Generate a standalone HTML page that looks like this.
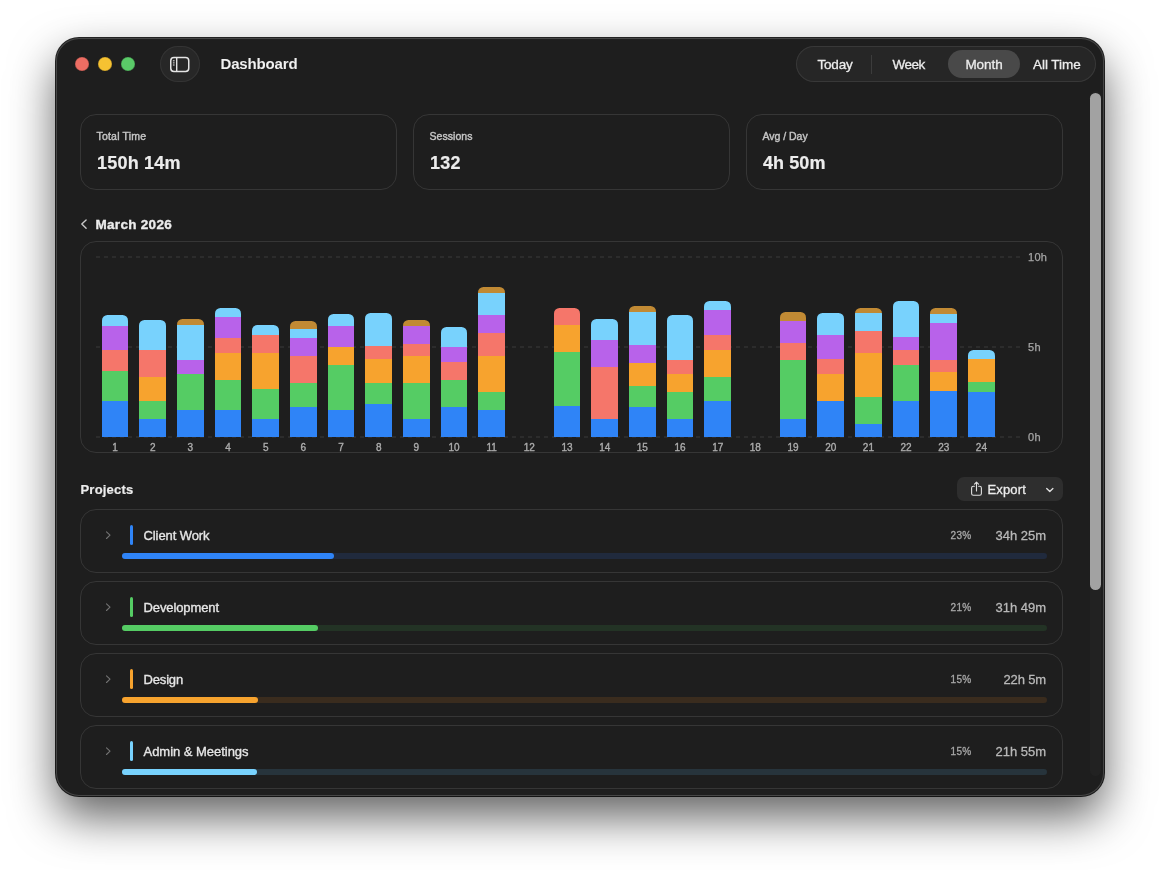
<!DOCTYPE html>
<html lang="en"><head><meta charset="utf-8"><title>Dashboard</title>
<style>
html,body{margin:0;padding:0}
body{width:1160px;height:870px;background:#fff;position:relative;overflow:hidden;
 font-family:"Liberation Sans",sans-serif;color:#e8e8e8;-webkit-font-smoothing:antialiased}
.abs,.t,.card,.bar,.seg{position:absolute}
.t{white-space:nowrap;line-height:1;}
#win{position:absolute;left:56px;top:38px;width:1048px;height:758px;border-radius:23px;background:#1e1e1e;
 box-shadow:0 0 0 1px rgba(0,0,0,.85),0 21px 46px rgba(0,0,0,.62)}
#win:after{content:"";position:absolute;inset:0;border-radius:23px;box-shadow:inset 0 0 0 1px rgba(255,255,255,.18);pointer-events:none}
.card{border:1px solid #363636;border-radius:16px;box-sizing:border-box;background:#1e1e1e}
.lbl{font-size:10.5px;color:#c6c6c6;-webkit-text-stroke:.4px #c6c6c6}
.big{font-size:18px;font-weight:700;color:#ececec;-webkit-text-stroke:.2px #ececec}
.ax{font-size:11px;color:#a6a6a6;-webkit-text-stroke:.25px #a6a6a6}
.day{font-size:10px;color:#acacac;-webkit-text-stroke:.35px #acacac;text-align:center;width:30px}
.bar{overflow:hidden;border-radius:5.5px 5.5px 0 0}
.seg{left:0;right:0}
.grid{position:absolute;left:96px;width:924px;height:2px;background:repeating-linear-gradient(90deg,#2c2c2c 0 4px,transparent 4px 8px)}
.pname{font-size:13px;font-weight:400;color:#e6e6e6;-webkit-text-stroke:.35px #e6e6e6}
.med{-webkit-text-stroke:.3px currentColor}
.pct{font-size:10px;color:#a8a8a8;-webkit-text-stroke:.3px #a8a8a8}
.dur{font-size:13px;color:#b8b8b8;-webkit-text-stroke:.3px #b8b8b8}
.track{position:absolute;left:122px;width:925px;height:6px;border-radius:3px}
.fill{position:absolute;left:0;top:0;height:6px;border-radius:3px}
.cbar{position:absolute;left:130px;width:3px;height:20px;border-radius:1.5px}
</style></head><body>
<div id="win"></div>
<div id="layer" style="position:absolute;left:0;top:0;width:1160px;height:870px;will-change:transform">

<div class="abs" style="left:75px;top:57px;width:14px;height:14px;border-radius:50%;background:#ec6d63;box-shadow:inset 0 0 0 .5px rgba(0,0,0,.22)"></div>
<div class="abs" style="left:98px;top:57px;width:14px;height:14px;border-radius:50%;background:#f6c232;box-shadow:inset 0 0 0 .5px rgba(0,0,0,.22)"></div>
<div class="abs" style="left:121px;top:57px;width:14px;height:14px;border-radius:50%;background:#5aca68;box-shadow:inset 0 0 0 .5px rgba(0,0,0,.22)"></div>
<div class="abs" style="left:160px;top:46px;width:40px;height:36px;border-radius:18px;background:#272727;box-shadow:inset 0 0 0 1px #343434"></div>
<svg class="abs" style="left:169px;top:55px" width="22" height="19" viewBox="0 0 22 19" fill="none" stroke="#e4e4e4">
<rect x="1.75" y="2.5" width="18" height="14" rx="3.2" stroke-width="1.5"/>
<line x1="7.7" y1="2.7" x2="7.7" y2="16.3" stroke-width="1.4"/>
<line x1="3.9" y1="5.8" x2="5.6" y2="5.8" stroke-width="1" /><line x1="3.9" y1="7.9" x2="5.6" y2="7.9" stroke-width="1"/><line x1="3.9" y1="10" x2="5.6" y2="10" stroke-width="1"/>
</svg>
<div class="t" style="left:220.5px;top:56px;font-size:15px;font-weight:700;color:#f0f0f0;letter-spacing:-0.15px">Dashboard</div>
<div class="abs" style="left:796px;top:46px;width:300px;height:36px;border-radius:18px;background:#262626;box-shadow:inset 0 0 0 1px #383838"></div>
<div class="abs" style="left:948px;top:50px;width:72px;height:28px;border-radius:14px;background:#494949"></div>
<div class="abs" style="left:871px;top:55px;width:1px;height:19px;background:#3c3c3c"></div>
<div class="t med" style="left:817.4px;top:57.7px;font-size:13.5px;color:#ececec;letter-spacing:-0.15px">Today</div>
<div class="t med" style="left:892.4px;top:57.7px;font-size:13.5px;color:#ececec;letter-spacing:-0.5px">Week</div>
<div class="t med" style="left:965.4px;top:57.7px;font-size:13.5px;color:#ececec;letter-spacing:-0.02px">Month</div>
<div class="t med" style="left:1033px;top:57.7px;font-size:13.5px;color:#ececec;letter-spacing:-0.05px">All Time</div>
<div class="card" style="left:80px;top:114px;width:317px;height:75.5px"></div>
<div class="t lbl" style="left:96.5px;top:131.2px;letter-spacing:0.2px">Total Time</div>
<div class="t big" style="left:97px;top:154px;letter-spacing:0.2px">150h 14m</div>
<div class="card" style="left:413px;top:114px;width:317px;height:75.5px"></div>
<div class="t lbl" style="left:429.5px;top:131.2px;letter-spacing:0.05px">Sessions</div>
<div class="t big" style="left:430px;top:154px;letter-spacing:0.25px">132</div>
<div class="card" style="left:746px;top:114px;width:317px;height:75.5px"></div>
<div class="t lbl" style="left:762.5px;top:131.2px;letter-spacing:-0.02px">Avg / Day</div>
<div class="t big" style="left:763px;top:154px;letter-spacing:0.08px">4h 50m</div>
<svg class="abs" style="left:79px;top:217px" width="10" height="14" viewBox="0 0 10 14" fill="none" stroke="#c8c8c8" stroke-width="1.4" stroke-linecap="round" stroke-linejoin="round"><path d="M7.1 3 L2.8 7.1 L7.1 11.2"/></svg>
<div class="t" style="left:95.5px;top:218px;font-size:13.5px;font-weight:700;color:#ececec;letter-spacing:.3px;-webkit-text-stroke:.35px #ececec">March 2026</div>
<div class="card" style="left:80px;top:241px;width:982.5px;height:211.5px"></div>
<div class="grid" style="top:256px"></div>
<div class="t ax" style="left:1028px;top:252px;letter-spacing:.3px">10h</div>
<div class="grid" style="top:346px"></div>
<div class="t ax" style="left:1028px;top:342px;letter-spacing:.3px">5h</div>
<div class="grid" style="top:436px"></div>
<div class="t ax" style="left:1028px;top:432px;letter-spacing:.3px">0h</div>
<div class="bar" style="left:101.75px;top:315px;width:26.5px;height:122px">
<div class="seg" style="top:86px;height:36px;background:#2f84f7"></div><div class="seg" style="top:56px;height:30px;background:#55cc64"></div><div class="seg" style="top:35px;height:21px;background:#f5766a"></div><div class="seg" style="top:11px;height:24px;background:#b862ea"></div><div class="seg" style="top:0px;height:11px;background:#78d2fd"></div></div>
<div class="t day" style="left:100.00px;top:443px">1</div>
<div class="bar" style="left:139.42px;top:320px;width:26.5px;height:117px">
<div class="seg" style="top:99px;height:18px;background:#2f84f7"></div><div class="seg" style="top:81px;height:18px;background:#55cc64"></div><div class="seg" style="top:57px;height:24px;background:#f7a32e"></div><div class="seg" style="top:30px;height:27px;background:#f5766a"></div><div class="seg" style="top:0px;height:30px;background:#78d2fd"></div></div>
<div class="t day" style="left:137.67px;top:443px">2</div>
<div class="bar" style="left:177.09px;top:319px;width:26.5px;height:118px">
<div class="seg" style="top:91px;height:27px;background:#2f84f7"></div><div class="seg" style="top:55px;height:36px;background:#55cc64"></div><div class="seg" style="top:41px;height:14px;background:#b862ea"></div><div class="seg" style="top:6px;height:35px;background:#78d2fd"></div><div class="seg" style="top:0px;height:6px;background:#c18a34"></div></div>
<div class="t day" style="left:175.34px;top:443px">3</div>
<div class="bar" style="left:214.76px;top:308px;width:26.5px;height:129px">
<div class="seg" style="top:102px;height:27px;background:#2f84f7"></div><div class="seg" style="top:72px;height:30px;background:#55cc64"></div><div class="seg" style="top:45px;height:27px;background:#f7a32e"></div><div class="seg" style="top:30px;height:15px;background:#f5766a"></div><div class="seg" style="top:9px;height:21px;background:#b862ea"></div><div class="seg" style="top:0px;height:9px;background:#78d2fd"></div></div>
<div class="t day" style="left:213.01px;top:443px">4</div>
<div class="bar" style="left:252.43px;top:325px;width:26.5px;height:112px">
<div class="seg" style="top:94px;height:18px;background:#2f84f7"></div><div class="seg" style="top:64px;height:30px;background:#55cc64"></div><div class="seg" style="top:28px;height:36px;background:#f7a32e"></div><div class="seg" style="top:10px;height:18px;background:#f5766a"></div><div class="seg" style="top:0px;height:10px;background:#78d2fd"></div></div>
<div class="t day" style="left:250.68px;top:443px">5</div>
<div class="bar" style="left:290.10px;top:321px;width:26.5px;height:116px">
<div class="seg" style="top:86px;height:30px;background:#2f84f7"></div><div class="seg" style="top:62px;height:24px;background:#55cc64"></div><div class="seg" style="top:35px;height:27px;background:#f5766a"></div><div class="seg" style="top:17px;height:18px;background:#b862ea"></div><div class="seg" style="top:8px;height:9px;background:#78d2fd"></div><div class="seg" style="top:0px;height:8px;background:#c18a34"></div></div>
<div class="t day" style="left:288.35px;top:443px">6</div>
<div class="bar" style="left:327.77px;top:314px;width:26.5px;height:123px">
<div class="seg" style="top:96px;height:27px;background:#2f84f7"></div><div class="seg" style="top:51px;height:45px;background:#55cc64"></div><div class="seg" style="top:33px;height:18px;background:#f7a32e"></div><div class="seg" style="top:12px;height:21px;background:#b862ea"></div><div class="seg" style="top:0px;height:12px;background:#78d2fd"></div></div>
<div class="t day" style="left:326.02px;top:443px">7</div>
<div class="bar" style="left:365.44px;top:313px;width:26.5px;height:124px">
<div class="seg" style="top:91px;height:33px;background:#2f84f7"></div><div class="seg" style="top:70px;height:21px;background:#55cc64"></div><div class="seg" style="top:46px;height:24px;background:#f7a32e"></div><div class="seg" style="top:33px;height:13px;background:#f5766a"></div><div class="seg" style="top:0px;height:33px;background:#78d2fd"></div></div>
<div class="t day" style="left:363.69px;top:443px">8</div>
<div class="bar" style="left:403.11px;top:320px;width:26.5px;height:117px">
<div class="seg" style="top:99px;height:18px;background:#2f84f7"></div><div class="seg" style="top:63px;height:36px;background:#55cc64"></div><div class="seg" style="top:36px;height:27px;background:#f7a32e"></div><div class="seg" style="top:24px;height:12px;background:#f5766a"></div><div class="seg" style="top:6px;height:18px;background:#b862ea"></div><div class="seg" style="top:0px;height:6px;background:#c18a34"></div></div>
<div class="t day" style="left:401.36px;top:443px">9</div>
<div class="bar" style="left:440.78px;top:327px;width:26.5px;height:110px">
<div class="seg" style="top:80px;height:30px;background:#2f84f7"></div><div class="seg" style="top:53px;height:27px;background:#55cc64"></div><div class="seg" style="top:35px;height:18px;background:#f5766a"></div><div class="seg" style="top:20px;height:15px;background:#b862ea"></div><div class="seg" style="top:0px;height:20px;background:#78d2fd"></div></div>
<div class="t day" style="left:439.03px;top:443px">10</div>
<div class="bar" style="left:478.45px;top:287px;width:26.5px;height:150px">
<div class="seg" style="top:123px;height:27px;background:#2f84f7"></div><div class="seg" style="top:105px;height:18px;background:#55cc64"></div><div class="seg" style="top:69px;height:36px;background:#f7a32e"></div><div class="seg" style="top:46px;height:23px;background:#f5766a"></div><div class="seg" style="top:28px;height:18px;background:#b862ea"></div><div class="seg" style="top:6px;height:22px;background:#78d2fd"></div><div class="seg" style="top:0px;height:6px;background:#c18a34"></div></div>
<div class="t day" style="left:476.70px;top:443px">11</div>
<div class="t day" style="left:514.37px;top:443px">12</div>
<div class="bar" style="left:553.79px;top:308px;width:26.5px;height:129px">
<div class="seg" style="top:98px;height:31px;background:#2f84f7"></div><div class="seg" style="top:44px;height:54px;background:#55cc64"></div><div class="seg" style="top:17px;height:27px;background:#f7a32e"></div><div class="seg" style="top:0px;height:17px;background:#f5766a"></div></div>
<div class="t day" style="left:552.04px;top:443px">13</div>
<div class="bar" style="left:591.46px;top:319px;width:26.5px;height:118px">
<div class="seg" style="top:100px;height:18px;background:#2f84f7"></div><div class="seg" style="top:48px;height:52px;background:#f5766a"></div><div class="seg" style="top:21px;height:27px;background:#b862ea"></div><div class="seg" style="top:0px;height:21px;background:#78d2fd"></div></div>
<div class="t day" style="left:589.71px;top:443px">14</div>
<div class="bar" style="left:629.13px;top:306px;width:26.5px;height:131px">
<div class="seg" style="top:101px;height:30px;background:#2f84f7"></div><div class="seg" style="top:80px;height:21px;background:#55cc64"></div><div class="seg" style="top:57px;height:23px;background:#f7a32e"></div><div class="seg" style="top:39px;height:18px;background:#b862ea"></div><div class="seg" style="top:6px;height:33px;background:#78d2fd"></div><div class="seg" style="top:0px;height:6px;background:#c18a34"></div></div>
<div class="t day" style="left:627.38px;top:443px">15</div>
<div class="bar" style="left:666.80px;top:315px;width:26.5px;height:122px">
<div class="seg" style="top:104px;height:18px;background:#2f84f7"></div><div class="seg" style="top:77px;height:27px;background:#55cc64"></div><div class="seg" style="top:59px;height:18px;background:#f7a32e"></div><div class="seg" style="top:45px;height:14px;background:#f5766a"></div><div class="seg" style="top:0px;height:45px;background:#78d2fd"></div></div>
<div class="t day" style="left:665.05px;top:443px">16</div>
<div class="bar" style="left:704.47px;top:301px;width:26.5px;height:136px">
<div class="seg" style="top:100px;height:36px;background:#2f84f7"></div><div class="seg" style="top:76px;height:24px;background:#55cc64"></div><div class="seg" style="top:49px;height:27px;background:#f7a32e"></div><div class="seg" style="top:34px;height:15px;background:#f5766a"></div><div class="seg" style="top:9px;height:25px;background:#b862ea"></div><div class="seg" style="top:0px;height:9px;background:#78d2fd"></div></div>
<div class="t day" style="left:702.72px;top:443px">17</div>
<div class="t day" style="left:740.39px;top:443px">18</div>
<div class="bar" style="left:779.81px;top:312px;width:26.5px;height:125px">
<div class="seg" style="top:107px;height:18px;background:#2f84f7"></div><div class="seg" style="top:48px;height:59px;background:#55cc64"></div><div class="seg" style="top:31px;height:17px;background:#f5766a"></div><div class="seg" style="top:9px;height:22px;background:#b862ea"></div><div class="seg" style="top:0px;height:9px;background:#c18a34"></div></div>
<div class="t day" style="left:778.06px;top:443px">19</div>
<div class="bar" style="left:817.48px;top:313px;width:26.5px;height:124px">
<div class="seg" style="top:88px;height:36px;background:#2f84f7"></div><div class="seg" style="top:61px;height:27px;background:#f7a32e"></div><div class="seg" style="top:46px;height:15px;background:#f5766a"></div><div class="seg" style="top:22px;height:24px;background:#b862ea"></div><div class="seg" style="top:0px;height:22px;background:#78d2fd"></div></div>
<div class="t day" style="left:815.73px;top:443px">20</div>
<div class="bar" style="left:855.15px;top:308px;width:26.5px;height:129px">
<div class="seg" style="top:116px;height:13px;background:#2f84f7"></div><div class="seg" style="top:89px;height:27px;background:#55cc64"></div><div class="seg" style="top:45px;height:44px;background:#f7a32e"></div><div class="seg" style="top:23px;height:22px;background:#f5766a"></div><div class="seg" style="top:5px;height:18px;background:#78d2fd"></div><div class="seg" style="top:0px;height:5px;background:#c18a34"></div></div>
<div class="t day" style="left:853.40px;top:443px">21</div>
<div class="bar" style="left:892.82px;top:301px;width:26.5px;height:136px">
<div class="seg" style="top:100px;height:36px;background:#2f84f7"></div><div class="seg" style="top:64px;height:36px;background:#55cc64"></div><div class="seg" style="top:49px;height:15px;background:#f5766a"></div><div class="seg" style="top:36px;height:13px;background:#b862ea"></div><div class="seg" style="top:0px;height:36px;background:#78d2fd"></div></div>
<div class="t day" style="left:891.07px;top:443px">22</div>
<div class="bar" style="left:930.49px;top:308px;width:26.5px;height:129px">
<div class="seg" style="top:83px;height:46px;background:#2f84f7"></div><div class="seg" style="top:64px;height:19px;background:#f7a32e"></div><div class="seg" style="top:52px;height:12px;background:#f5766a"></div><div class="seg" style="top:15px;height:37px;background:#b862ea"></div><div class="seg" style="top:6px;height:9px;background:#78d2fd"></div><div class="seg" style="top:0px;height:6px;background:#c18a34"></div></div>
<div class="t day" style="left:928.74px;top:443px">23</div>
<div class="bar" style="left:968.16px;top:350px;width:26.5px;height:87px">
<div class="seg" style="top:42px;height:45px;background:#2f84f7"></div><div class="seg" style="top:32px;height:10px;background:#55cc64"></div><div class="seg" style="top:9px;height:23px;background:#f7a32e"></div><div class="seg" style="top:0px;height:9px;background:#78d2fd"></div></div>
<div class="t day" style="left:966.41px;top:443px">24</div>
<div class="t" style="left:80.5px;top:483px;font-size:13px;font-weight:700;color:#ececec;letter-spacing:.2px;-webkit-text-stroke:.2px #ececec">Projects</div>
<div class="abs" style="left:957px;top:477px;width:106px;height:24px;border-radius:7px;background:#2e2e2e"></div>
<svg class="abs" style="left:969px;top:480px" width="16" height="18" viewBox="0 0 16 18" fill="none" stroke="#e0e0e0" stroke-width="1.1" stroke-linecap="round" stroke-linejoin="round">
<path d="M5.4 6.3 H4.4 Q2.6 6.3 2.6 8.1 V13.5 Q2.6 15.3 4.4 15.3 H10.6 Q12.4 15.3 12.4 13.5 V8.1 Q12.4 6.3 10.6 6.3 H9.6"/>
<path d="M7.5 11 V2.4 M5.5 4.2 L7.5 2.2 L9.5 4.2"/></svg>
<div class="t" style="left:987.5px;top:483px;font-size:13px;color:#ececec;letter-spacing:.15px;-webkit-text-stroke:.3px #ececec">Export</div>
<svg class="abs" style="left:1044px;top:485px" width="12" height="10" viewBox="0 0 12 10" fill="none" stroke="#e0e0e0" stroke-width="1.4" stroke-linecap="round" stroke-linejoin="round"><path d="M2.7 3.6 L5.8 6.4 L8.9 3.6"/></svg>
<div class="card" style="left:80px;top:509px;width:982.5px;height:64px"></div>
<svg class="abs" style="left:103px;top:529px" width="10" height="12" viewBox="0 0 10 12" fill="none" stroke="#747474" stroke-width="1.1" stroke-linecap="round" stroke-linejoin="round"><path d="M3.5 2.9 L7 6.2 L3.5 9.5"/></svg>
<div class="cbar" style="top:525px;background:#2f84f7"></div>
<div class="t pname" style="left:143.5px;top:528.5px;letter-spacing:-0.09px">Client Work</div>
<div class="t pct" style="right:188.5px;top:531px;letter-spacing:.3px">23%</div>
<div class="t dur" style="right:114px;top:528.5px;letter-spacing:-0.01px">34h 25m</div>
<div class="track" style="top:553px;background:#202a3d"><div class="fill" style="width:212px;background:#2f84f7"></div></div>
<div class="card" style="left:80px;top:581px;width:982.5px;height:64px"></div>
<svg class="abs" style="left:103px;top:601px" width="10" height="12" viewBox="0 0 10 12" fill="none" stroke="#747474" stroke-width="1.1" stroke-linecap="round" stroke-linejoin="round"><path d="M3.5 2.9 L7 6.2 L3.5 9.5"/></svg>
<div class="cbar" style="top:597px;background:#55cc64"></div>
<div class="t pname" style="left:143.5px;top:600.5px;letter-spacing:-0.1px">Development</div>
<div class="t pct" style="right:188.5px;top:603px;letter-spacing:.3px">21%</div>
<div class="t dur" style="right:114px;top:600.5px;letter-spacing:-0.01px">31h 49m</div>
<div class="track" style="top:625px;background:#233325"><div class="fill" style="width:196px;background:#55cc64"></div></div>
<div class="card" style="left:80px;top:653px;width:982.5px;height:64px"></div>
<svg class="abs" style="left:103px;top:673px" width="10" height="12" viewBox="0 0 10 12" fill="none" stroke="#747474" stroke-width="1.1" stroke-linecap="round" stroke-linejoin="round"><path d="M3.5 2.9 L7 6.2 L3.5 9.5"/></svg>
<div class="cbar" style="top:669px;background:#f7a32e"></div>
<div class="t pname" style="left:143.5px;top:672.5px;letter-spacing:-0.16px">Design</div>
<div class="t pct" style="right:188.5px;top:675px;letter-spacing:.3px">15%</div>
<div class="t dur" style="right:114px;top:672.5px;letter-spacing:-0.15px">22h 5m</div>
<div class="track" style="top:697px;background:#3a2c1e"><div class="fill" style="width:136px;background:#f7a32e"></div></div>
<div class="card" style="left:80px;top:725px;width:982.5px;height:64px"></div>
<svg class="abs" style="left:103px;top:745px" width="10" height="12" viewBox="0 0 10 12" fill="none" stroke="#747474" stroke-width="1.1" stroke-linecap="round" stroke-linejoin="round"><path d="M3.5 2.9 L7 6.2 L3.5 9.5"/></svg>
<div class="cbar" style="top:741px;background:#78d2fd"></div>
<div class="t pname" style="left:143.5px;top:744.5px;letter-spacing:-0.03px">Admin &amp; Meetings</div>
<div class="t pct" style="right:188.5px;top:747px;letter-spacing:.3px">15%</div>
<div class="t dur" style="right:114px;top:744.5px;letter-spacing:-0.01px">21h 55m</div>
<div class="track" style="top:769px;background:#27343c"><div class="fill" style="width:135px;background:#78d2fd"></div></div>
<div class="abs" style="left:1090px;top:91px;width:11px;height:685px;border-radius:5.5px;background:#222222"></div>
<div class="abs" style="left:1090px;top:93px;width:11px;height:497px;border-radius:5.5px;background:#a2a2a2"></div>
</div></body></html>
